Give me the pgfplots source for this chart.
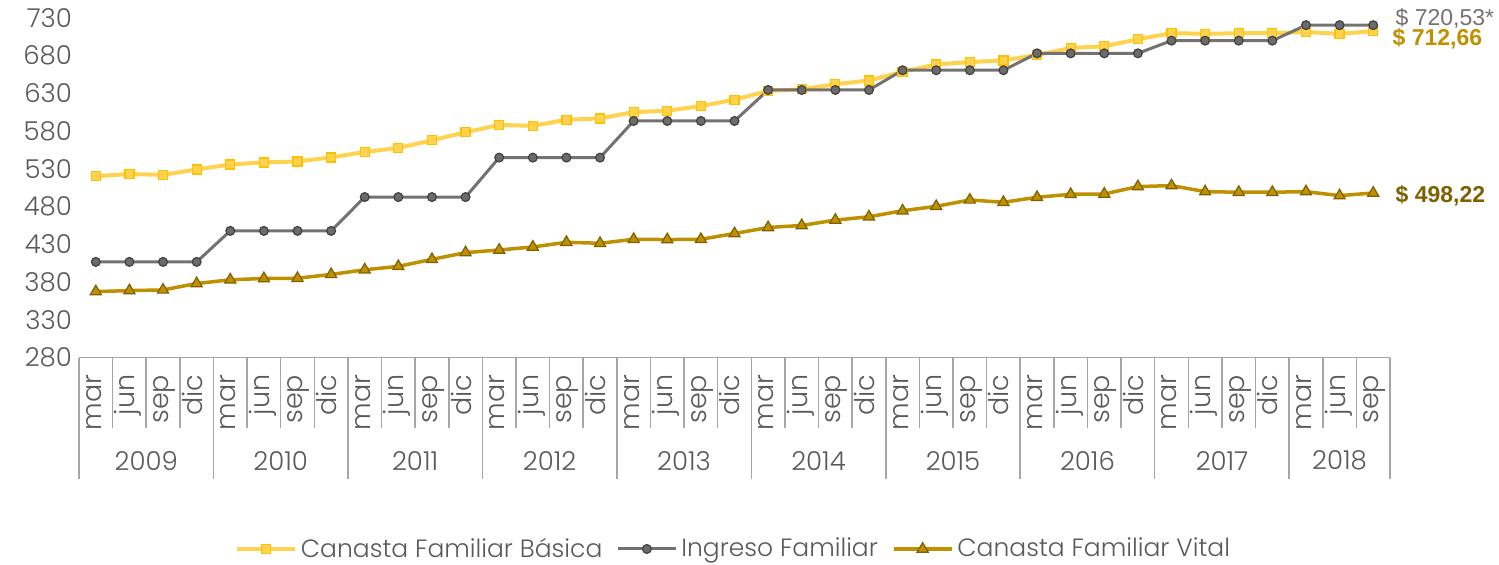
\documentclass[border=0pt]{standalone}
\usepackage{fontspec}
\setmainfont{Poppins}[UprightFont=* Light, BoldFont=* Medium]
\newfontfamily\lblfont{Liberation Sans}
\usepackage{pgfplots}
\usepackage{pgfplotstable}
\pgfplotsset{compat=1.18}

\definecolor{basica}{HTML}{FFD24F}
\definecolor{basicaedge}{HTML}{FFC000}
\definecolor{ingreso}{HTML}{767171}
\definecolor{ingresofill}{HTML}{6B6B6B}
\definecolor{ingresoedge}{HTML}{404040}
\definecolor{vital}{HTML}{BF9000}
\definecolor{vitaledge}{HTML}{7F6000}
\definecolor{txt}{HTML}{595959}
\definecolor{sepcol}{HTML}{A6A6A6}

% quarterly values, mar 2009 .. sep 2018
\pgfplotstableread{
x basica ingreso vital
0  520.5  406.93 367.6
1  523.2  406.93 368.9
2  522.3  406.93 369.8
3  529.3  406.93 378.3
4  536.0  448.00 383.2
5  538.7  448.00 385.0
6  540.0  448.00 385.3
7  545.3  448.00 390.3
8  552.5  492.80 396.5
9  557.9  492.80 401.0
10 568.0  492.80 410.3
11 578.7  492.80 419.2
12 588.3  545.07 422.7
13 587.2  545.07 426.7
14 595.2  545.07 432.9
15 597.0  545.07 431.6
16 605.3  593.60 436.9
17 607.2  593.60 436.5
18 613.3  593.60 436.9
19 621.9  593.60 444.5
20 633.3  634.67 452.5
21 635.6  634.67 455.2
22 642.3  634.67 462.3
23 647.2  634.67 466.7
24 658.8  660.80 474.7
25 668.5  660.80 480.5
26 671.6  660.80 489.0
27 673.8  660.80 485.9
28 681.0  683.20 492.5
29 690.3  683.20 496.5
30 692.5  683.20 496.9
31 701.9  683.20 506.7
32 710.0  700.00 508.0
33 709.0  700.00 500.0
34 709.9  700.00 499.2
35 709.9  700.00 499.2
36 711.5  720.53 500.0
37 709.0  720.53 494.7
38 712.66 720.53 498.22
}\datatable

\begin{document}
\begin{tikzpicture}
\begin{axis}[
    name=ax,
    scale only axis,
    width=655.5pt,
    height=169.85pt,
    xmin=-0.5, xmax=38.5,
    ymin=280, ymax=730,
    ytick={280,330,...,730},
    xtick={0,...,38},
    xticklabels={mar,jun,sep,dic,mar,jun,sep,dic,mar,jun,sep,dic,mar,jun,sep,dic,mar,jun,sep,dic,mar,jun,sep,dic,mar,jun,sep,dic,mar,jun,sep,dic,mar,jun,sep,dic,mar,jun,sep},
    axis x line=bottom,
    axis y line=left,
    y axis line style={draw=none},
    x axis line style={draw=sepcol, line width=0.75pt, -},
    major tick length=0pt,
    tick style={draw=none},
    xticklabel style={rotate=90, anchor=mid east, font=\fontsize{13.5}{13.5}\selectfont, text=txt},
    xticklabel shift=5pt,
    yticklabel style={font=\fontsize{13}{13}\selectfont, text=txt, /pgf/number format/assume math mode=true},
    clip=false,
    legend columns=3,
    legend cell align=left,
    legend style={at={(0.5,-0.563)}, anchor=center, draw=none, fill=none,
        font=\fontsize{12.5}{13}\selectfont, text=txt,
        /tikz/every even column/.append style={column sep=5pt}},
    legend image code/.code={\draw[mark repeat=2,mark phase=2] plot coordinates {(0pt,0pt) (14.5pt,0pt) (29pt,0pt)};},
]
\addplot[basica, line width=2pt, mark=square*, mark size=2.25pt,
    mark options={fill=basica, draw=basicaedge, line width=0.6pt}]
    table[x=x, y=basica] {\datatable};
\addlegendentry{Canasta Familiar Básica}
\addplot[ingreso, line width=1.5pt, mark=*, mark size=2.2pt,
    mark options={fill=ingresofill, draw=ingresoedge, line width=0.6pt}]
    table[x=x, y=ingreso] {\datatable};
\addlegendentry{Ingreso Familiar}
\addplot[vital, line width=1.75pt, mark=triangle*, mark size=3.2pt,
    mark options={fill=vital, draw=vitaledge, line width=0.6pt}]
    table[x=x, y=vital] {\datatable};
\addlegendentry{Canasta Familiar Vital}

% category table under the axis
\pgfplotsinvokeforeach{-0.5,0.5,...,38.5}{
    \draw[sepcol, line width=0.75pt] (axis cs:#1,280) -- ++(0pt,-35pt);
}
\pgfplotsinvokeforeach{-0.5,3.5,...,35.5}{
    \draw[sepcol, line width=0.75pt] (axis cs:#1,280) -- ++(0pt,-60.5pt);
}
\draw[sepcol, line width=0.75pt] (axis cs:38.5,280) -- ++(0pt,-60.5pt);
\pgfplotsinvokeforeach{0,...,8}{
    \node[text=txt, font=\fontsize{13}{13}\selectfont, yshift=-51.5pt]
        at (axis cs:4*#1+1.5,280) {\pgfmathparse{int(2009+#1)}\pgfmathresult};
}
\node[text=txt, font=\fontsize{13}{13}\selectfont, yshift=-51.5pt] at (axis cs:37,280) {2018};

% end labels
\node[anchor=west, inner sep=0pt, text=ingreso, font=\lblfont\fontsize{11.5}{12}\selectfont, xshift=11pt] at (axis cs:38,729) {\$ 720,53*};
\node[anchor=west, inner sep=0pt, text=vital, font=\lblfont\bfseries\fontsize{11.5}{12}\selectfont, xshift=9.5pt] at (axis cs:38,702) {\$ 712,66};
\node[anchor=west, inner sep=0pt, text=vitaledge, font=\lblfont\bfseries\fontsize{11.5}{12}\selectfont, xshift=11pt] at (axis cs:38,494.5) {\$ 498,22};
\end{axis}
\pgfresetboundingbox
\path[use as bounding box] ([shift={(-39.5pt,-103.15pt)}]ax.south west) rectangle ([shift={(54.5pt,9pt)}]ax.north east);
\end{tikzpicture}
\end{document}
